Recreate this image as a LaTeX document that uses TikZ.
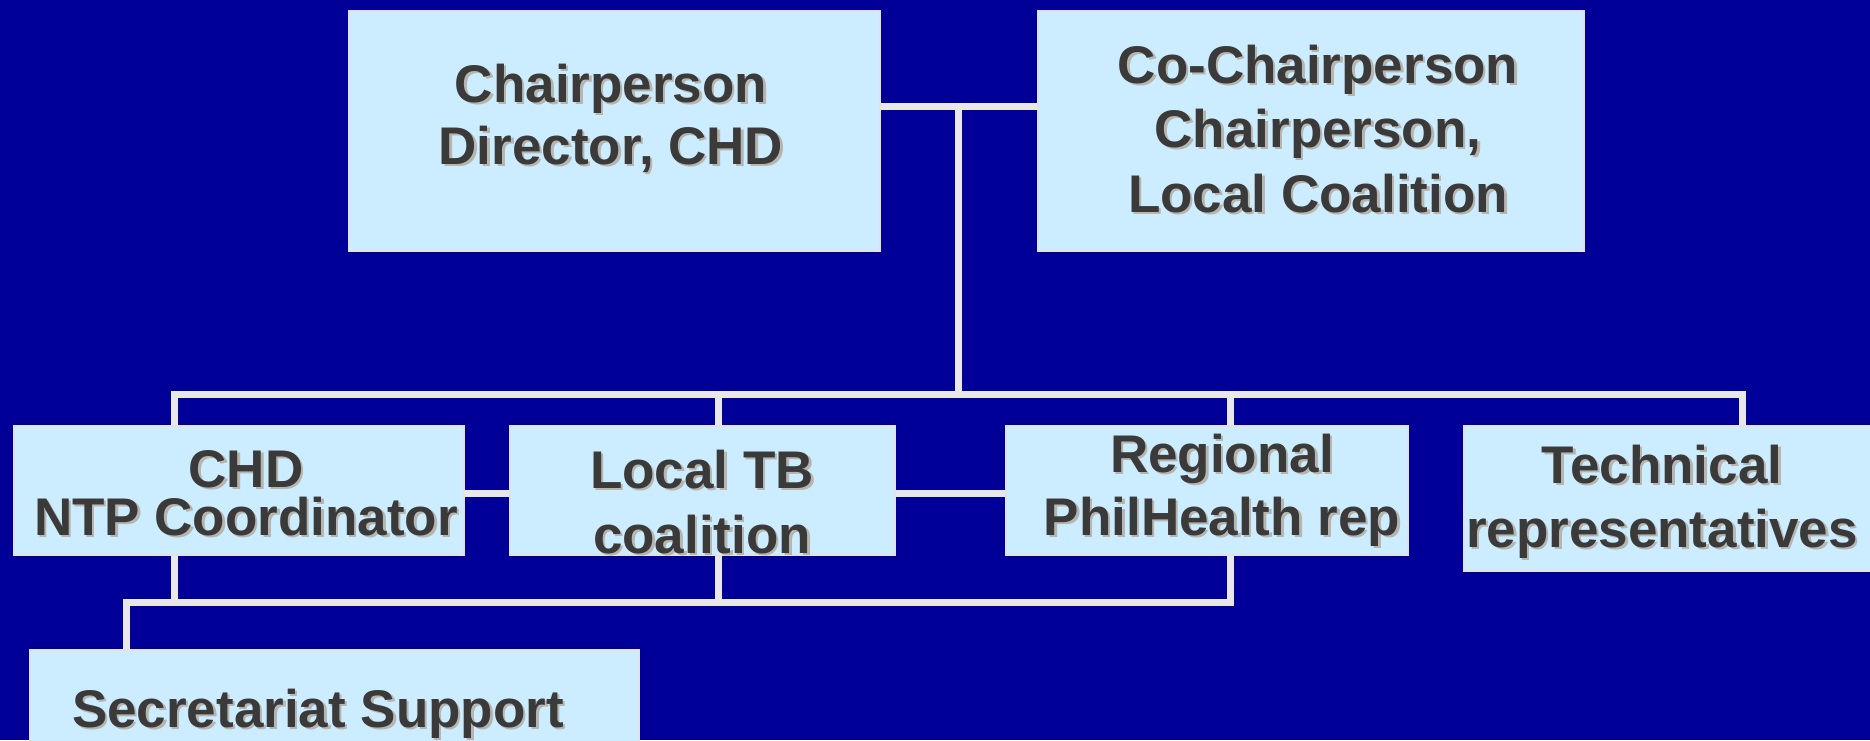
\documentclass[tikz,border=0pt]{standalone}
\usepackage{fontspec}
\setmainfont{Liberation Sans}
\definecolor{bgblue}{HTML}{000099}
\definecolor{boxfill}{HTML}{CCECFF}
\definecolor{boxedge}{HTML}{E2E2E2}
\definecolor{linegray}{HTML}{E8E8E8}
\definecolor{txtgray}{HTML}{3A3A3A}
\definecolor{shgray}{HTML}{B8B4AE}
\newcommand{\shtxt}[4]{%
  \node[txtsh] (#1s) at (#2+2.5,#3+2.5) {#4};
  \node[txt] (#1) at (#2,#3) {#4};}
\begin{document}
\begin{tikzpicture}[x=1pt,y=-1pt,
  orgbox/.style={draw=boxedge,line width=2pt,fill=boxfill,inner sep=0pt,anchor=north west},
  conn/.style={draw=linegray,line width=7pt,line join=miter},
  txt/.style={anchor=base,inner sep=0pt,text=txtgray,font=\bfseries\fontsize{53}{60}\selectfont},
  txtsh/.style={txt,text=shgray}]
\useasboundingbox (0,0) rectangle (1870,740);
\fill[bgblue] (0,0) rectangle (1870,740);
% boxes
\node[orgbox,minimum width=531pt,minimum height=240pt] (chair) at (348,10) {};
\node[orgbox,minimum width=546pt,minimum height=240pt] (co) at (1037,10) {};
\node[orgbox,minimum width=450pt,minimum height=129pt] (chd) at (13,425) {};
\node[orgbox,minimum width=385pt,minimum height=129pt] (ltb) at (509,425) {};
\node[orgbox,minimum width=402pt,minimum height=129pt] (reg) at (1005,425) {};
\node[orgbox,minimum width=412pt,minimum height=145pt] (tech) at (1463,425) {};
\node[orgbox,minimum width=609pt,minimum height=140pt] (sec) at (29,649) {};
% junction coordinates
\coordinate (j1) at (958,106);
\coordinate (j2) at (958,394);
\coordinate (d1) at (174,394);
\coordinate (d2) at (718,394);
\coordinate (d3) at (1230,394);
\coordinate (d4) at (1742,394);
\coordinate (m) at (0,493);
\coordinate (e0) at (126,602);
\coordinate (e1) at (174,602);
\coordinate (e2) at (718,602);
\coordinate (e3) at (1230,602);
% connectors
\draw[conn] (chair.east |- j1) -- (co.west |- j1);
\draw[conn] (j1) -- (j2);
\draw[conn] (chd.north -| d1) |- (d4) -- (tech.north -| d4);
\draw[conn] (d2) -- (ltb.north -| d2);
\draw[conn] (d3) -- (reg.north -| d3);
\draw[conn] (chd.east |- m) -- (ltb.west |- m);
\draw[conn] (ltb.east |- m) -- (reg.west |- m);
\draw[conn] (chd.south -| e1) -- (e1);
\draw[conn] (ltb.south -| e2) -- (e2);
\draw[conn] (reg.south -| e3) |- (e0) -- (sec.north -| e0);
% texts
\shtxt{chairA}{611}{102}{Chairperson}
\shtxt{chairB}{611}{164}{Director, CHD}
\shtxt{coA}{1318}{83}{Co-Chairperson}
\shtxt{coB}{1318}{147}{Chairperson,}
\shtxt{coC}{1318}{212}{Local Coalition}
\shtxt{chdA}{246}{487}{CHD}
\shtxt{chdB}{246}{535}{NTP Coordinator}
\shtxt{ltbA}{702}{488}{Local TB}
\shtxt{ltbB}{702}{553}{coalition}
\shtxt{regA}{1222}{472}{Regional}
\shtxt{regB}{1222}{535}{PhilHealth rep}
\shtxt{techA}{1662}{483}{Technical}
\shtxt{techB}{1662}{547}{representatives}
\shtxt{secA}{318}{727}{Secretariat Support}
\end{tikzpicture}
\end{document}
